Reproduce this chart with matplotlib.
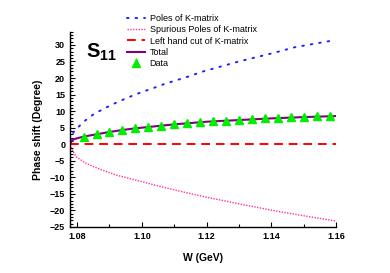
import matplotlib
matplotlib.use('Agg')
import matplotlib.pyplot as plt
from matplotlib.ticker import MultipleLocator

plt.rcParams['font.family'] = ['Liberation Sans', 'DejaVu Sans']
plt.rcParams['mathtext.fontset'] = 'custom'
plt.rcParams['mathtext.bf'] = 'Liberation Sans:bold'
plt.rcParams['mathtext.rm'] = 'Liberation Sans'

# Poles of K-matrix
poles_x = [1.0779, 1.0783, 1.079, 1.082, 1.0853, 1.089, 1.0926, 1.0962, 1.0998,
           1.1034, 1.107, 1.1106, 1.1142, 1.119, 1.13, 1.14, 1.1473, 1.16]
poles_y = [1.0, 2.5, 3.8, 6.8, 9.2, 11.1, 12.8, 14.3, 15.7,
           16.9, 18.2, 19.3, 20.4, 22.0, 25.0, 27.4, 29.3, 31.5]

# Spurious poles of K-matrix
spur_x = [1.0778, 1.0783, 1.0797, 1.0828, 1.0869, 1.092, 1.0972, 1.1023,
          1.1075, 1.1127, 1.12, 1.13, 1.14, 1.15, 1.16]
spur_y = [0.0, -1.3, -3.8, -5.8, -7.5, -9.3, -10.6, -11.9,
          -13.2, -14.4, -16.0, -18.0, -19.9, -21.6, -23.2]

# Left hand cut
lhc_x = [1.0778, 1.16]
lhc_y = [0.0, 0.0]

# Total
tot_x = [1.0778, 1.0782, 1.0786, 1.079, 1.080, 1.082, 1.086, 1.09, 1.094, 1.098,
         1.102, 1.106, 1.11, 1.12, 1.13, 1.14, 1.15, 1.16]
tot_y = [0.0, 0.8, 1.2, 1.5, 1.8, 2.3, 3.0, 3.7, 4.3, 4.8,
         5.2, 5.6, 6.0, 6.8, 7.3, 7.8, 8.2, 8.5]

# Data
data_x = [1.082, 1.086, 1.090, 1.094, 1.098, 1.102, 1.106, 1.110, 1.114, 1.118,
          1.122, 1.126, 1.130, 1.134, 1.138, 1.142, 1.146, 1.150, 1.154, 1.158]
data_y = [2.2, 3.0, 3.7, 4.3, 4.8, 5.2, 5.6, 6.0, 6.4, 6.7,
          6.9, 7.1, 7.3, 7.6, 7.8, 8.0, 8.1, 8.3, 8.5, 8.6]
data_err = [0.7] * len(data_x)

fig = plt.figure(figsize=(3.9, 2.73), dpi=100)
ax = fig.add_axes([0.1795, 0.1685, 0.682, 0.7155])

ax.plot(poles_x, poles_y, color='#2020ff', lw=1.4, ls=(0, (0.8, 3.6)),
        dash_capstyle='round', label='Poles of K-matrix')
ax.plot(spur_x, spur_y, color='#ff3399', lw=1.0, ls=(0, (1, 1)),
        label='Spurious Poles of K-matrix')
ax.plot(lhc_x, lhc_y, color='#ff0000', lw=1.4, ls=(0, (4.5, 3)),
        label='Left hand cut of K-matrix')
ax.plot(tot_x, tot_y, color='#800080', lw=1.5, label='Total')
ax.errorbar(data_x, data_y, yerr=data_err, fmt='^', color='#00ee00', ms=5.5,
            elinewidth=1.0, capsize=0, label='Data')

ax.set_xlim(1.0778, 1.16)
ax.set_ylim(-25, 34)
ax.xaxis.set_minor_locator(MultipleLocator(0.01))
ax.yaxis.set_major_locator(MultipleLocator(5))
ax.yaxis.set_minor_locator(MultipleLocator(1))
ax.set_xticks([1.08, 1.10, 1.12, 1.14, 1.16])
ax.set_xticklabels(['1.08', '1.10', '1.12', '1.14', '1.16'])
ax.tick_params(which='both', direction='in', labelsize=6.5, width=0.8)
ax.tick_params(which='major', length=3.5)
ax.tick_params(which='minor', length=2)
for lbl in ax.get_xticklabels() + ax.get_yticklabels():
    lbl.set_fontweight('bold')
ax.spines['top'].set_visible(False)
ax.spines['right'].set_visible(False)
ax.spines['left'].set_linewidth(1.0)
ax.spines['bottom'].set_linewidth(1.0)

ax.set_xlabel('W (GeV)', fontsize=7.5, fontweight='bold', labelpad=9)
ax.set_ylabel('Phase shift (Degree)', fontsize=7.5, fontweight='bold', labelpad=5)

ax.text(0.06, 0.95, r'$\mathbf{S}_{\mathbf{11}}$', transform=ax.transAxes,
        fontsize=14.5, va='top', ha='left')

ax.legend(loc='upper left', bbox_to_anchor=(127 / 390, 1 - 14 / 273),
          bbox_transform=fig.transFigure, frameon=False, fontsize=6.5,
          handlelength=2.0, handletextpad=0.5, labelspacing=0.25,
          borderpad=0, borderaxespad=0)

fig.savefig('out.png', dpi=100)
